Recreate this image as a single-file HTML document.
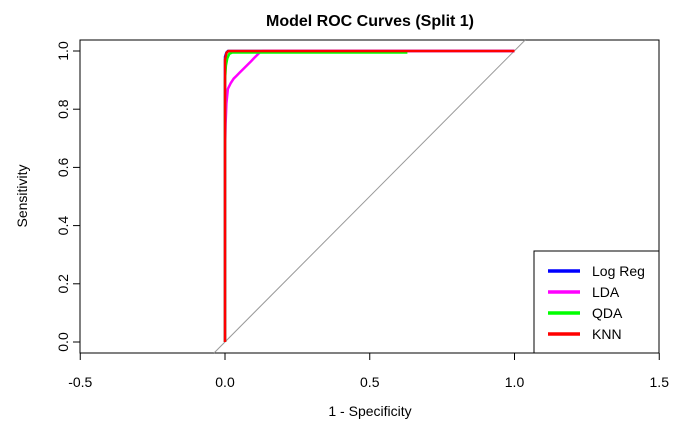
<!DOCTYPE html>
<html><head><style>
body{margin:0;background:#fff;font-family:"Liberation Sans",Arial,sans-serif}
svg text{font-family:"Liberation Sans",Arial,sans-serif}
</style></head><body>
<svg width="700" height="432">
<text x="370" y="26" text-anchor="middle" font-weight="bold" font-size="16">Model ROC Curves (Split 1)</text>
<g id="axes"></g>
<g id="plot"></g>
<g id="legend"></g>
</svg>
<script>
const xTicks=[-0.5,0,0.5,1,1.5];
const xTickLabels=["-0.5","0.0","0.5","1.0","1.5"];
const yTicks=[0,0.2,0.4,0.6,0.8,1];
const yTickLabels=["0.0","0.2","0.4","0.6","0.8","1.0"];
const seriesNames=["Log Reg","LDA","QDA","KNN"];
const seriesColors=["#0000ff","#ff00ff","#00ff00","#ff0000"];
const logRegFpr=[0,0,0.005,0.01,1];
const logRegTpr=[0,0.98,0.995,1,1];
const ldaFpr=[0,0,0.002,0.005,0.01,0.02,0.03,0.04,0.05,0.06,0.07,0.08,0.09,0.1,0.11,0.12,0.13,1];
const ldaTpr=[0,0.65,0.75,0.82,0.87,0.89,0.905,0.915,0.925,0.935,0.945,0.955,0.965,0.975,0.985,0.995,1,1];
const qdaFpr=[0,0,0.003,0.008,0.015,0.025,0.63];
const qdaTpr=[0,0.9,0.95,0.975,0.99,0.995,0.995];
const knnFpr=[0,0,0.003,0.006,0.012,1];
const knnTpr=[0,0.97,0.985,0.995,1,1];
const fprs=[logRegFpr,ldaFpr,qdaFpr,knnFpr], tprs=[logRegTpr,ldaTpr,qdaTpr,knnTpr];
const NS="http://www.w3.org/2000/svg";
const X=v=>225+v*289.5, Y=v=>342-v*291;
function mk(t,a,p){const e=document.createElementNS(NS,t);for(const k in a)e.setAttribute(k,a[k]);p.appendChild(e);return e;}
const axes=document.getElementById('axes'),plot=document.getElementById('plot'),leg=document.getElementById('legend');
let box=mk('rect',{x:80,y:40,width:579,height:313,fill:'none',stroke:'#000'},axes);


let xa=mk('line',{x1:X(-0.5),x2:X(1.5),y1:353,y2:353,stroke:'#000'},axes);


xTicks.forEach((v,i)=>{
 let t=mk('line',{x1:X(v),x2:X(v),y1:353,y2:360,stroke:'#000'},axes);
 
 
 let l=mk('text',{x:X(v),y:387,'text-anchor':'middle','font-size':14},axes);l.textContent=xTickLabels[i];
 
 
});
yTicks.forEach((v,i)=>{
 let t=mk('line',{x1:73,x2:80,y1:Y(v),y2:Y(v),stroke:'#000'},axes);
 
 
 let l=mk('text',{x:0,y:0,'text-anchor':'middle','font-size':14,transform:`translate(68,${Y(v)}) rotate(-90)`},axes);l.textContent=yTickLabels[i];
 
 
});
let xt=mk('text',{x:370,y:416,'text-anchor':'middle','font-size':14},axes);xt.textContent='1 - Specificity';


let yt=mk('text',{x:0,y:0,'text-anchor':'middle','font-size':14,transform:'translate(27,196) rotate(-90)'},axes);yt.textContent='Sensitivity';


let diag=mk('line',{x1:X(-0.038),y1:353,x2:X(1.037),y2:40,stroke:'#999','stroke-width':1},plot);


fprs.forEach((f,s)=>{
 const pts=f.map((v,i)=>X(v).toFixed(1)+','+Y(tprs[s][i]).toFixed(1)).join(' ');
 let p=mk('polyline',{points:pts,fill:'none',stroke:seriesColors[s],'stroke-width':2.5},plot);
 
 
});
let lb=mk('rect',{x:534,y:251,width:125,height:102,fill:'#fff',stroke:'#000'},leg);


seriesNames.forEach((n,i)=>{
 const y=271+i*21;
 let l=mk('line',{x1:548,x2:580,y1:y,y2:y,stroke:seriesColors[i],'stroke-width':3.5},leg);
 
 
 let t=mk('text',{x:592,y:y+5,'font-size':14},leg);t.textContent=n;
 
 
});
</script>
</body></html>
